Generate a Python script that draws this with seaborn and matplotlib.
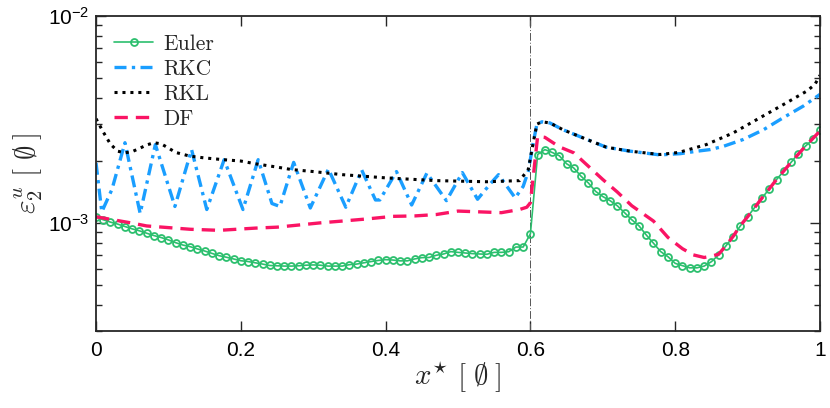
import numpy as np
import matplotlib
matplotlib.use("Agg")
import matplotlib.pyplot as plt
import matplotlib.ticker as mticker
import seaborn as sns

# Euler: one sample every 0.01 (markers on every sample), values in 1e-4
euler_x = np.linspace(0, 1, 101)
euler_y = [10.66, 10.35, 10.08, 9.86, 9.60, 9.35, 9.15, 8.91, 8.68, 8.49,
           8.27, 8.02, 7.81, 7.67, 7.48, 7.31, 7.12, 6.94, 6.82, 6.69,
           6.56, 6.50, 6.41, 6.32, 6.22, 6.20, 6.18, 6.18, 6.20, 6.24,
           6.26, 6.24, 6.18, 6.18, 6.18, 6.28, 6.32, 6.41, 6.50, 6.58,
           6.64, 6.61, 6.55, 6.55, 6.69, 6.79, 6.80, 6.97, 7.07, 7.26,
           7.20, 7.15, 7.10, 7.07, 7.05, 7.20, 7.20, 7.25, 7.64, 7.64,
           8.85, 21.4, 22.6, 21.9, 21.1, 19.3, 18.4, 16.8, 15.6, 14.2,
           13.4, 12.8, 12.1, 11.2, 10.35, 9.67, 8.74, 7.97, 7.26, 6.86,
           6.37, 6.21, 6.06, 6.06, 6.18, 6.49, 7.00, 7.73, 8.58, 9.67,
           10.7, 11.9, 13.2, 14.6, 16.2, 17.8, 19.6, 21.6, 23.5, 25.3,
           28.0]

rkc_x = [0.0, 0.008, 0.022, 0.040, 0.061, 0.082, 0.109, 0.132, 0.153, 0.177,
         0.203, 0.224, 0.243, 0.254, 0.273, 0.296, 0.321, 0.345, 0.367, 0.386,
         0.392, 0.415, 0.436, 0.457, 0.484, 0.506, 0.527, 0.545, 0.556, 0.579,
         0.590, 0.597, 0.604, 0.609, 0.616, 0.627, 0.645, 0.678, 0.705, 0.738,
         0.779, 0.807, 0.830, 0.848, 0.866, 0.894, 0.922, 0.949, 0.977, 1.0]
rkc_y = [19.5, 11.3, 14.5, 24.4, 11.1, 23.9, 12.0, 22.6, 11.6, 20.2,
         11.6, 20.2, 12.4, 12.0, 19.6, 11.8, 18.2, 11.9, 18.0, 12.9,
         12.9, 17.7, 12.2, 17.4, 12.8, 17.5, 13.0, 15.5, 17.1, 13.2,
         15.0, 17.7, 24.5, 30.0, 30.8, 30.4, 28.2, 25.3, 23.2, 22.2,
         21.3, 21.6, 22.2, 22.6, 23.4, 25.3, 28.2, 32.2, 36.7, 41.8]

rkl_x = [0.0, 0.01, 0.02, 0.03, 0.04, 0.05, 0.06, 0.07, 0.08, 0.09,
         0.10, 0.11, 0.13, 0.15, 0.176, 0.20, 0.22, 0.25, 0.27, 0.30,
         0.34, 0.40, 0.47, 0.54, 0.585, 0.597, 0.604, 0.609, 0.616, 0.627,
         0.645, 0.678, 0.705, 0.738, 0.779, 0.805, 0.843, 0.88, 0.917, 0.954,
         0.982, 0.993, 1.0]
rkl_y = [31.9, 27.5, 24.0, 22.2, 21.8, 22.1, 22.9, 23.8, 24.4, 24.1,
         23.0, 21.9, 21.0, 20.6, 20.2, 19.9, 19.3, 18.6, 18.1, 17.7,
         17.1, 16.5, 16.0, 15.8, 16.0, 18.1, 24.5, 30.0, 30.8, 30.4,
         28.2, 25.3, 23.2, 22.2, 21.4, 21.9, 23.9, 27.2, 32.2, 38.1,
         43.4, 46.7, 51.7]

df_x = [0.0, 0.05, 0.07, 0.13, 0.17, 0.22, 0.25, 0.28, 0.31, 0.34,
        0.375, 0.41, 0.44, 0.47, 0.50, 0.53, 0.56, 0.585, 0.595, 0.60,
        0.61, 0.62, 0.64, 0.66, 0.675, 0.70, 0.72, 0.74, 0.77, 0.79,
        0.81, 0.825, 0.84, 0.85, 0.86, 0.87, 0.88, 0.89, 0.90, 0.92,
        0.94, 0.96, 0.98, 1.0]
df_y = [10.7, 9.97, 9.66, 9.31, 9.20, 9.43, 9.53, 9.76, 10.0, 10.2,
        10.45, 10.75, 10.8, 10.97, 11.4, 11.3, 11.2, 11.6, 11.9, 12.5,
        26.2, 25.9, 23.3, 21.8, 19.5, 16.2, 14.1, 12.1, 10.2, 8.5,
        7.5, 7.0, 6.8, 6.9, 7.05, 7.75, 8.6, 9.7, 10.7, 13.2,
        16.2, 19.6, 23.5, 27.8]

GREEN = "#2CBF6E"
BLUE = "#1A9EFF"
PINK = "#FA1464"

sns.set_theme(style="ticks")
plt.rcParams["font.family"] = ["Liberation Sans", "DejaVu Sans"]
plt.rcParams["mathtext.fontset"] = "cm"

fig = plt.figure(figsize=(8.3, 4.08), dpi=100)
ax = fig.add_axes([96 / 830, 1 - 331 / 408, 724 / 830, 315 / 408])

ax.axvline(0.6, color="#555555", lw=0.7, ls=(0, (8, 2, 1, 2)), zorder=1)

scale = 1e-4
sns.lineplot(x=euler_x, y=np.array(euler_y) * scale, ax=ax, color=GREEN, lw=1.2,
             marker="o", markersize=5, markerfacecolor="none", markeredgecolor=GREEN,
             markeredgewidth=1.3, label="Euler", estimator=None)
sns.lineplot(x=rkc_x, y=np.array(rkc_y) * scale, ax=ax, color=BLUE, lw=2.4,
             linestyle=(0, (3.6, 1.6, 1.0, 1.6)), label="RKC", estimator=None)
sns.lineplot(x=rkl_x, y=np.array(rkl_y) * scale, ax=ax, color="black", lw=2.2,
             linestyle=(0, (1, 1.6)), label="RKL", estimator=None)
sns.lineplot(x=df_x, y=np.array(df_y) * scale, ax=ax, color=PINK, lw=2.4,
             linestyle=(0, (4, 2.4)), label="DF", estimator=None)

ax.set_yscale("log")
ax.set_xlim(0, 1)
ax.set_ylim(3e-4, 1e-2)
ax.set_xticks([0, 0.2, 0.4, 0.6, 0.8, 1.0])
ax.set_xticklabels(["0", "0.2", "0.4", "0.6", "0.8", "1"])
ax.yaxis.set_major_locator(mticker.FixedLocator([1e-3, 1e-2]))
ax.yaxis.set_major_formatter(mticker.FixedFormatter([r"$\mathregular{10^{-3}}$",
                                                     r"$\mathregular{10^{-2}}$"]))
ax.yaxis.set_minor_locator(mticker.LogLocator(base=10, subs=np.arange(2, 10)))
ax.yaxis.set_minor_formatter(mticker.NullFormatter())

ax.tick_params(which="both", direction="in", top=True, right=True,
               colors="#262626", labelcolor="black", labelsize=15)
ax.tick_params(which="major", length=7, width=1.0)
ax.tick_params(which="minor", length=4, width=1.0)
ax.tick_params(axis="x", pad=7)
ax.tick_params(axis="y", pad=5)
for sp in ax.spines.values():
    sp.set_linewidth(1.3)
    sp.set_color("#262626")

unit = r"\left[\ \emptyset^{\,}_{\,}\right]"
ax.set_xlabel(r"$x^{\star}\ " + unit + "$", fontsize=21, labelpad=0)
ax.set_ylabel(r"$\varepsilon_2^{u}\ " + unit + "$", fontsize=21, labelpad=2)

leg = ax.legend(loc="upper left", frameon=False, handlelength=1.8,
                labelspacing=0.25, handletextpad=0.5, borderaxespad=0.45,
                prop={"family": "cmr10", "size": 15.5})

fig.savefig("out.png", dpi=100)
